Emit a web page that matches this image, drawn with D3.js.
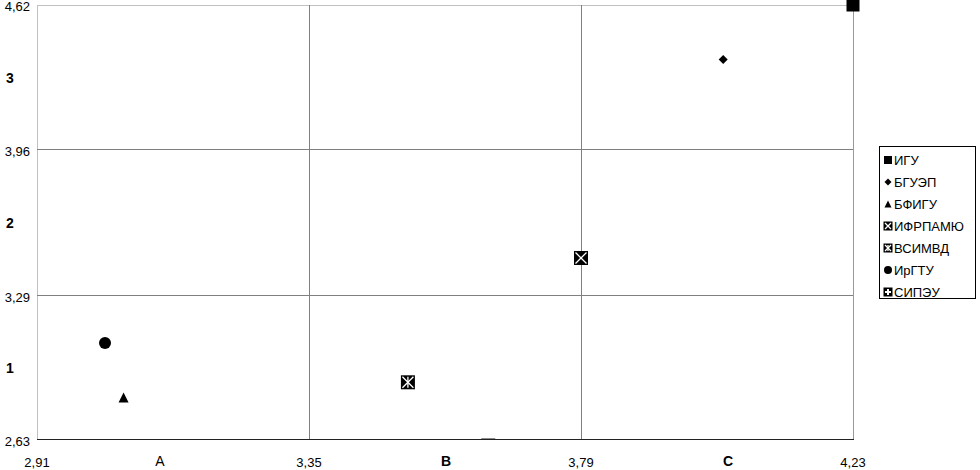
<!DOCTYPE html>
<html>
<head>
<meta charset="utf-8">
<script src="https://cdn.jsdelivr.net/npm/d3@7"></script>
<style>
  body { margin: 0; background: #fff; }
  text { font-family: "Liberation Sans", Arial, sans-serif; }
</style>
</head>
<body>
<div id="chart"></div>
<script>
// data
var names   = ['ИГУ', 'БГУЭП', 'БФИГУ', 'ИФРПАМЮ', 'ВСИМВД', 'ИрГТУ', 'СИПЭУ'];
var x_vals  = [4.23, 4.02, 3.05, 3.79, 3.51, 3.02, 3.64];
var y_vals  = [4.62, 4.37, 2.82, 3.46, 2.89, 3.07, 2.60];
var x_ticks = [2.91, 3.35, 3.79, 4.23];
var y_ticks = [2.63, 3.29, 3.96, 4.62];
var x_zones = ['A', 'B', 'C'];
var y_zones = ['1', '2', '3'];

// marker shape for each name
var shapes = {
    'ИГУ': 'square', 'БГУЭП': 'diamond', 'БФИГУ': 'triangle',
    'ИФРПАМЮ': 'boxX', 'ВСИМВД': 'boxStar', 'ИрГТУ': 'circle', 'СИПЭУ': 'boxPlus'
};

var data = names.map(function(n, i){
    return {name: n, x: x_vals[i], y: y_vals[i]};
});

var width  = 980;
var height = 470;
var plot   = {left: 37, top: 5, right: 853, bottom: 439};

var svg = d3.select('#chart')
    .append('svg')
    .attr('width', width)
    .attr('height', height);

var x_scale = d3.scaleLinear()
    .domain([x_ticks[0], x_ticks[x_ticks.length - 1]])
    .range([plot.left, plot.right]);

var y_scale = d3.scaleLinear()
    .domain([y_ticks[0], y_ticks[y_ticks.length - 1]])
    .range([plot.bottom, plot.top]);

var fmt = function(v){ return d3.format('.2f')(v).replace('.', ','); };

// border (top/left light)
svg.append('line')
    .attr('x1', plot.left + 0.5).attr('x2', plot.left + 0.5)
    .attr('y1', plot.top).attr('y2', plot.bottom)
    .attr('stroke', '#c0c0c0');
svg.append('line')
    .attr('x1', plot.left).attr('x2', plot.right)
    .attr('y1', plot.top + 0.5).attr('y2', plot.top + 0.5)
    .attr('stroke', '#c0c0c0');

// grid lines
svg.selectAll('.vgrid')
    .data(x_ticks.slice(1))
    .enter()
    .append('line')
    .attr('class', 'vgrid')
    .attr('x1', function(d){ return Math.round(x_scale(d)) + 0.5; })
    .attr('x2', function(d){ return Math.round(x_scale(d)) + 0.5; })
    .attr('y1', plot.top)
    .attr('y2', plot.bottom)
    .attr('stroke', function(d, i){ return i === x_ticks.length - 2 ? '#999' : '#808080'; });

svg.selectAll('.hgrid')
    .data(y_ticks.slice(1, -1))
    .enter()
    .append('line')
    .attr('class', 'hgrid')
    .attr('x1', plot.left)
    .attr('x2', plot.right)
    .attr('y1', function(d){ return Math.round(y_scale(d)) + 0.5; })
    .attr('y2', function(d){ return Math.round(y_scale(d)) + 0.5; })
    .attr('stroke', '#808080');

// bottom axis line
svg.append('line')
    .attr('x1', plot.left).attr('x2', plot.right + 1)
    .attr('y1', plot.bottom + 0.5).attr('y2', plot.bottom + 0.5)
    .attr('stroke', '#222');

// tick labels
svg.selectAll('.xlab')
    .data(x_ticks)
    .enter()
    .append('text')
    .attr('class', 'xlab')
    .attr('x', function(d){ return x_scale(d); })
    .attr('y', 467)
    .attr('text-anchor', 'middle')
    .attr('font-size', 13)
    .text(fmt);

svg.selectAll('.ylab')
    .data(y_ticks)
    .enter()
    .append('text')
    .attr('class', 'ylab')
    .attr('x', 30)
    .attr('y', function(d, i){
        return i === y_ticks.length - 1 ? y_scale(d) + 6 : y_scale(d) + 7;
    })
    .attr('text-anchor', 'end')
    .attr('font-size', 13)
    .text(fmt);

// zone labels
svg.selectAll('.xzone')
    .data(x_zones)
    .enter()
    .append('text')
    .attr('class', 'xzone')
    .attr('x', function(d, i){ return (x_scale(x_ticks[i]) + x_scale(x_ticks[i + 1])) / 2 + [-13, 1, 11][i]; })
    .attr('y', 466)
    .attr('text-anchor', 'middle')
    .attr('font-size', 14)
    .attr('font-weight', function(d, i){ return i === 0 ? 'normal' : 'bold'; })
    .text(function(d){ return d; });

svg.selectAll('.yzone')
    .data(y_zones)
    .enter()
    .append('text')
    .attr('class', 'yzone')
    .attr('x', 10)
    .attr('y', function(d, i){ return (y_scale(y_ticks[i]) + y_scale(y_ticks[i + 1])) / 2 + 6; })
    .attr('text-anchor', 'middle')
    .attr('font-size', 14)
    .attr('font-weight', 'bold')
    .text(function(d){ return d; });

// markers
function drawMarker(g, shape, s){
    var h = s / 2;
    if (shape === 'square') {
        g.append('rect').attr('x', -h).attr('y', -h).attr('width', s).attr('height', s).attr('fill', '#000');
    } else if (shape === 'diamond') {
        g.append('path').attr('d', 'M0,' + (-h) + 'L' + h + ',0L0,' + h + 'L' + (-h) + ',0Z').attr('fill', '#000');
    } else if (shape === 'triangle') {
        g.append('path').attr('d', 'M0,' + (-h) + 'L' + h + ',' + h + 'L' + (-h) + ',' + h + 'Z').attr('fill', '#000');
    } else if (shape === 'circle') {
        g.append('circle').attr('r', h).attr('fill', '#000');
    } else {
        g.append('rect').attr('x', -h).attr('y', -h).attr('width', s).attr('height', s).attr('fill', '#000');
        var k = h - 1.5;
        if (shape === 'boxX' || shape === 'boxStar') {
            g.append('path').attr('d', 'M' + (-k) + ',' + (-k) + 'L' + k + ',' + k + 'M' + k + ',' + (-k) + 'L' + (-k) + ',' + k)
                .attr('stroke', '#fff').attr('stroke-width', 1.3);
        }
        if (shape === 'boxStar' || shape === 'boxPlus') {
            g.append('path').attr('d', 'M0,' + (-k) + 'L0,' + k).attr('stroke', '#fff').attr('stroke-width', shape === 'boxPlus' ? 2 : 1.3);
        }
        if (shape === 'boxPlus') {
            g.append('path').attr('d', 'M' + (-k) + ',0L' + k + ',0').attr('stroke', '#fff').attr('stroke-width', 2);
        }
    }
}

var sizes = {square: 13, diamond: 9, triangle: 10, circle: 12, boxX: 14, boxStar: 14, boxPlus: 14};

svg.append('clipPath')
    .attr('id', 'clip')
    .append('rect')
    .attr('x', 0).attr('y', 0)
    .attr('width', width).attr('height', plot.bottom);

var points = svg.append('g')
    .attr('clip-path', 'url(#clip)')
    .selectAll('g')
    .data(data)
    .enter()
    .append('g')
    .attr('transform', function(d){ return 'translate(' + x_scale(d.x) + ',' + y_scale(d.y) + ')'; });

points.each(function(d){
    drawMarker(d3.select(this), shapes[d.name], sizes[shapes[d.name]]);
});

// legend
var legend = svg.append('g').attr('transform', 'translate(879,146)');
legend.append('rect')
    .attr('x', 0.5).attr('y', 0.5)
    .attr('width', 96).attr('height', 152)
    .attr('fill', '#fff')
    .attr('stroke', '#000');

var items = legend.selectAll('.item')
    .data(names)
    .enter()
    .append('g')
    .attr('class', 'item')
    .attr('transform', function(d, i){ return 'translate(9,' + (14 + i * 22) + ')'; });

items.each(function(d){
    var sh = shapes[d];
    var ls = {square: 8, diamond: 7, triangle: 7, circle: 8, boxX: 9, boxStar: 9, boxPlus: 9}[sh];
    drawMarker(d3.select(this), sh, ls);
});

items.append('text')
    .attr('x', 6)
    .attr('y', 4.5)
    .attr('font-size', 13)
    .text(function(d){ return d; });
</script>
</body>
</html>
